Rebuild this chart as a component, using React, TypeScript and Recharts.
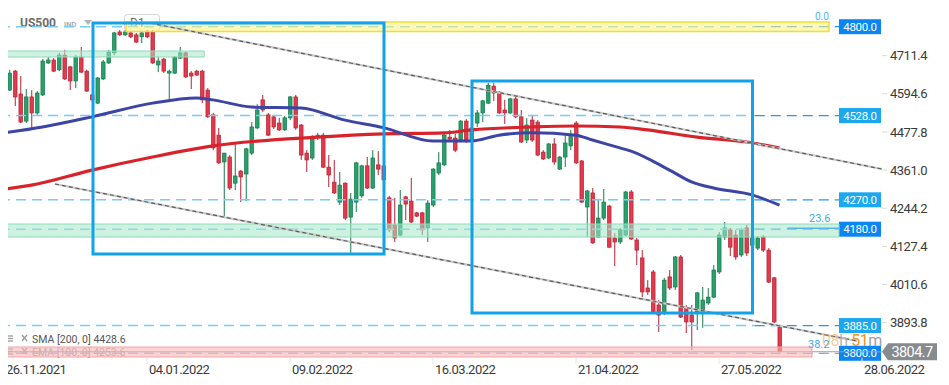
import React from 'react';
import {Bar, ComposedChart, Line, ReferenceArea, ReferenceLine, XAxis, YAxis} from 'recharts';

// daily candles, US500
const opens = [
  4704, 4606, 4664, 4594, 4511, 4585, 4536, 4591, 4689, 4698, 4668, 4713, 4677, 4634, 4707, 4664, 4591, 4566, 4640, 4689,
  4720, 4784, 4775, 4781, 4775, 4769, 4784, 4784, 4683, 4701, 4658, 4658, 4704, 4720, 4658, 4664, 4664, 4606, 4530, 4468,
  4386, 4401, 4321, 4358, 4349, 4413, 4490, 4576, 4530, 4524, 4505, 4484, 4521, 4585, 4499, 4413, 4398, 4462, 4468, 4370,
  4324, 4263, 4321, 4217, 4263, 4282, 4374, 4306, 4377, 4374, 4276, 4193, 4162, 4279, 4266, 4230, 4230, 4184, 4254, 4352,
  4377, 4462, 4459, 4453, 4511, 4453, 4505, 4536, 4566, 4618, 4600, 4545, 4536, 4579, 4524, 4453, 4514, 4508, 4416, 4398,
  4441, 4364, 4401, 4435, 4505, 4389, 4248, 4291, 4156, 4214, 4251, 4153, 4141, 4162, 4294, 4147, 4092, 4000, 4049, 3948,
  3923, 4034, 4003, 4095, 3939, 3917, 3927, 3927, 3954, 3972, 4049, 4156, 4178, 4162, 4101, 4184, 4131, 4122, 4156, 4116,
  4031, 3880,
];
const highs = [
  4707, 4668, 4668, 4649, 4609, 4606, 4603, 4701, 4707, 4704, 4720, 4729, 4680, 4713, 4738, 4668, 4594, 4646, 4698, 4729,
  4784, 4790, 4790, 4787, 4781, 4787, 4790, 4790, 4707, 4704, 4668, 4710, 4738, 4723, 4664, 4668, 4668, 4612, 4536, 4490,
  4413, 4407, 4447, 4361, 4429, 4508, 4563, 4591, 4536, 4530, 4521, 4527, 4588, 4591, 4502, 4422, 4468, 4475, 4475, 4407,
  4392, 4355, 4324, 4291, 4386, 4377, 4401, 4422, 4419, 4422, 4282, 4276, 4300, 4282, 4337, 4233, 4233, 4269, 4367, 4416,
  4475, 4484, 4472, 4514, 4517, 4514, 4545, 4576, 4628, 4628, 4603, 4576, 4582, 4588, 4545, 4520, 4530, 4514, 4422, 4444,
  4459, 4404, 4468, 4484, 4511, 4392, 4300, 4306, 4269, 4303, 4254, 4168, 4184, 4297, 4300, 4153, 4116, 4024, 4055, 3963,
  4031, 4055, 4098, 4101, 3948, 3948, 3988, 4003, 4000, 4070, 4171, 4202, 4184, 4178, 4184, 4193, 4159, 4159, 4162, 4122,
  4034, 3887,
];
const lows = [
  4576, 4603, 4557, 4505, 4505, 4490, 4530, 4588, 4686, 4661, 4664, 4637, 4606, 4612, 4658, 4600, 4570, 4563, 4637, 4686,
  4713, 4772, 4772, 4765, 4750, 4750, 4765, 4686, 4661, 4658, 4576, 4655, 4701, 4643, 4609, 4649, 4566, 4521, 4422, 4380,
  4217, 4300, 4300, 4263, 4266, 4407, 4487, 4539, 4465, 4487, 4481, 4481, 4514, 4484, 4392, 4355, 4392, 4453, 4367, 4309,
  4288, 4254, 4208, 4107, 4233, 4276, 4303, 4303, 4346, 4315, 4171, 4141, 4159, 4208, 4199, 4217, 4162, 4141, 4248, 4346,
  4373, 4453, 4416, 4450, 4444, 4450, 4493, 4508, 4563, 4573, 4533, 4502, 4533, 4520, 4444, 4444, 4447, 4404, 4392, 4395,
  4377, 4361, 4370, 4422, 4380, 4260, 4156, 4135, 4153, 4208, 4122, 4067, 4135, 4159, 4147, 4070, 3972, 3979, 3923, 3865,
  3917, 3994, 3994, 3908, 3862, 3810, 3871, 3878, 3948, 3969, 4043, 4147, 4098, 4086, 4095, 4098, 4125, 4116, 4110, 4015,
  3893, 3804,
];
const closes = [
  4579, 4658, 4585, 4508, 4585, 4536, 4597, 4695, 4698, 4664, 4713, 4640, 4634, 4707, 4661, 4603, 4576, 4643, 4692, 4723,
  4781, 4775, 4784, 4769, 4753, 4781, 4769, 4689, 4695, 4664, 4664, 4707, 4720, 4646, 4649, 4652, 4576, 4524, 4429, 4383,
  4413, 4306, 4343, 4340, 4426, 4493, 4545, 4545, 4468, 4493, 4484, 4521, 4585, 4490, 4407, 4392, 4459, 4468, 4370, 4346,
  4291, 4315, 4214, 4272, 4383, 4374, 4306, 4398, 4364, 4331, 4178, 4153, 4254, 4257, 4202, 4220, 4178, 4260, 4364, 4383,
  4468, 4456, 4422, 4511, 4453, 4490, 4536, 4573, 4621, 4597, 4536, 4536, 4579, 4524, 4447, 4499, 4453, 4407, 4395, 4441,
  4386, 4401, 4444, 4468, 4383, 4263, 4297, 4138, 4214, 4263, 4125, 4141, 4178, 4294, 4150, 4116, 3988, 3988, 3927, 3917,
  4024, 4000, 4095, 3911, 3896, 3896, 3985, 3963, 3972, 4055, 4162, 4184, 4125, 4095, 4178, 4107, 4153, 4153, 4116, 4018,
  3896, 3804.7,
];

const dateTicks = [0, 26, 52, 78, 104, 130, 156];
const dateLabels = ['26.11.2021', '04.01.2022', '09.02.2022', '16.03.2022', '21.04.2022', '27.05.2022', '28.06.2022'];
const priceTicks = [3893.8, 4010.6, 4127.4, 4244.2, 4361.0, 4477.8, 4594.6, 4711.4];

// moving averages, sampled along the drawn curves
const smaIdx = [0, 5, 16, 27, 38, 57, 69, 80, 85, 96, 104, 112, 117, 126, 135, 141];
const smaVals = [4303, 4315, 4361, 4401, 4435, 4462, 4472, 4475, 4484, 4493, 4496, 4493, 4484, 4462, 4447, 4428.6];
const emaIdx = [0, 7, 16, 27, 35, 38, 45, 54, 62, 69, 78, 85, 90, 96, 104, 107, 112, 114, 121, 125, 129, 136, 141];
const emaVals = [
  4475, 4493, 4524, 4566, 4582, 4576, 4554, 4551, 4514, 4491, 4450, 4450, 4468, 4475, 4468, 4453, 4429, 4419, 4361, 4325,
  4306, 4285, 4253.6,
];

// horizontal levels and their tags
const levels = [4800, 4528, 4270, 4180, 3885, 3800];
const levelTags = ['4800.0', '4528.0', '4270.0', '4180.0', '3885.0', '3800.0'];
const lastPrice = 3804.7;

const candles = opens.map((o, i) => ({i, open: o, high: highs[i], low: lows[i], close: closes[i]}));
const smaData = smaIdx.map((i, k) => ({i, v: smaVals[k]}));
const emaData = emaIdx.map((i, k) => ({i, v: emaVals[k]}));

const X_MIN = -0.7273;
const X_MAX = 171.818;
const Y_MIN = 3785.6;
const Y_MAX = 4881.8;
const PLOT_END = 151.82;
const FADE_X = 136.5;

const UP = '#27a06b';
const UP_EDGE = '#17784b';
const DOWN = '#e03a4c';
const DOWN_EDGE = '#b52233';
const BOX = '#12a2ea';
const STRONG = new Set([4800, 4180, 3800]);
const FONT = 'Roboto, sans-serif';

function Candle(props: any) {
  const {x, y, width, height, payload} = props;
  if (!payload) return null;
  const {open, close, high, low} = payload;
  const top = Math.min(y, y + height);
  const h = Math.abs(height);
  const py = (v: number) => top + ((high - v) / (high - low || 1)) * h;
  const up = close >= open;
  const cx = x + width / 2;
  const b1 = py(Math.max(open, close));
  const b2 = py(Math.min(open, close));
  return (
    <g>
      <line x1={cx} x2={cx} y1={top} y2={top + h} stroke={up ? UP_EDGE : DOWN_EDGE} strokeWidth={1} />
      <rect
        x={cx - 1.8}
        y={b1}
        width={3.6}
        height={Math.max(b2 - b1, 1)}
        fill={up ? UP : DOWN}
        stroke={up ? UP_EDGE : DOWN_EDGE}
        strokeWidth={0.7}
      />
    </g>
  );
}

function DateTick(props: any) {
  const {x, payload} = props;
  const k = dateTicks.indexOf(payload.value);
  return (
    <g>
      <line x1={x} x2={x} y1={358} y2={364} stroke="#e4e4e4" />
      <text x={x + 2} y={374} fontSize={13} fill="#3a3a3a" letterSpacing={-0.5} fontFamily={FONT}>
        {dateLabels[k]}
      </text>
    </g>
  );
}

function PriceTick(props: any) {
  const {y, payload} = props;
  return (
    <g>
      <line x1={882} x2={887} y1={y} y2={y} stroke="#d8d8d8" />
      <text x={890} y={y} dy={4.6} fontSize={13} fill="#3a3a3a" letterSpacing={-0.5} fontFamily={FONT}>
        {Number(payload.value).toFixed(1)}
      </text>
    </g>
  );
}

function Tag(props: any) {
  const {viewBox, text, fill} = props;
  const y = viewBox?.y ?? 0;
  return (
    <g>
      <rect x={839} y={y - 7.5} width={42} height={15} fill={fill} />
      <text x={860} y={y} dy={4} textAnchor="middle" fontSize={11.5} fill="#fff" letterSpacing={-0.3} fontFamily={FONT}>
        {text}
      </text>
    </g>
  );
}

function LastTag(props: any) {
  const {viewBox} = props;
  const y = viewBox?.y ?? 0;
  return (
    <g>
      <polygon points={`882,${y} 888,${y - 8.5} 937,${y - 8.5} 937,${y + 8.5} 888,${y + 8.5}`} fill="#868b90" />
      <text x={912} y={y} dy={5} textAnchor="middle" fontSize={14.5} fill="#fff" letterSpacing={-0.6} fontFamily={FONT}>
        {lastPrice.toFixed(1)}
      </text>
    </g>
  );
}

function LegendIcons({y}: {y: number}) {
  return (
    <g stroke="#9a9a9a" strokeWidth={1.3}>
      <line x1={6} x2={13} y1={y - 6} y2={y - 6} />
      <line x1={6} x2={13} y1={y - 3.5} y2={y - 3.5} />
      <line x1={6} x2={13} y1={y - 1} y2={y - 1} />
      <line x1={22} x2={27} y1={y - 7} y2={y - 1} />
      <line x1={27} x2={22} y1={y - 7} y2={y - 1} />
    </g>
  );
}

export default function App() {
  return (
    <div style={{position: 'relative', width: 949, height: 385, margin: -8, background: '#fff', fontFamily: FONT}}>
      <svg width={949} height={385} style={{position: 'absolute', left: 0, top: 0}}>
        <text x={20} y={27} fontSize={12} fontWeight="bold" fill="#6c6c6c" fontFamily={FONT}>
          US500
        </text>
        <text x={64} y={26.5} fontSize={7.5} fontWeight="bold" fill="#a8adb5" fontFamily={FONT}>
          IND
        </text>
        <polygon points="84,20 92,20 88,25" fill="#b4b4b4" />
        <rect x={124.5} y={14.5} width={35} height={17} rx={3} fill="#fff" stroke="#d4d4d4" />
        <text x={130} y={27} fontSize={12} fill="#666" fontFamily={FONT}>
          D1
        </text>
        <LegendIcons y={355} />
        <text x={32} y={356} fontSize={10.5} fill="#9a9a9a" fontFamily={FONT}>
          {`EMA [100, 0] ${emaVals[emaVals.length - 1]}`}
        </text>
      </svg>

      <div style={{position: 'absolute', left: 0, top: 0}}>
        <ComposedChart width={949} height={385} data={candles} margin={{top: 0, right: 0, bottom: 0, left: 0}}>
          <XAxis
            dataKey="i"
            type="number"
            domain={[X_MIN, X_MAX]}
            allowDataOverflow
            ticks={dateTicks}
            interval={0}
            tick={<DateTick />}
            tickLine={false}
            axisLine={false}
            height={27}
          />
          <YAxis
            orientation="right"
            mirror
            domain={[Y_MIN, Y_MAX]}
            allowDataOverflow
            ticks={priceTicks}
            interval={0}
            tick={<PriceTick />}
            tickLine={false}
            axisLine={false}
          />

          <Bar
            dataKey={(d: any) => [d.low, d.high]}
            barSize={4}
            shape={<Candle />}
            isAnimationActive={false}
            zIndex={300}
          />

          {levels.map((lv) => (
            <ReferenceLine
              key={`lv-a-${lv}`}
              segment={[{x: X_MIN, y: lv}, {x: FADE_X, y: lv}]}
              stroke={lv === 3800 ? '#9fb3dc' : '#74cdf7'}
              strokeDasharray="10 6"
              strokeWidth={1.4}
              ifOverflow="visible"
              zIndex={310}
            />
          ))}

          {levels.map((lv, k) => (
            <ReferenceLine
              key={`lv-b-${lv}`}
              segment={[{x: FADE_X, y: lv}, {x: PLOT_END, y: lv}]}
              stroke={lv === 3800 ? '#8ea4d6' : '#2a98ea'}
              strokeDasharray="10 6"
              strokeWidth={1.3}
              ifOverflow="visible"
              zIndex={320}
              label={<Tag text={levelTags[k]} fill={STRONG.has(lv) ? '#0a86f2' : '#1ba8ef'} />}
            />
          ))}

          <ReferenceLine
            segment={[{x: X_MIN, y: lastPrice}, {x: 159.6, y: lastPrice}]}
            stroke="#9a9ea4"
            strokeWidth={1}
            ifOverflow="visible"
            zIndex={330}
            label={<LastTag />}
          />

          <ReferenceArea x1={22.18} x2={150} y1={4785.3} y2={4814.4} fill="#fff27a" fillOpacity={0.55} stroke="#f3dc37" strokeWidth={1.5} ifOverflow="visible" zIndex={450} />
          <ReferenceArea x1={-0.36} x2={36.4} y1={4707.3} y2={4725.6} fill="#a6e8cb" fillOpacity={0.55} stroke="#8edbb8" ifOverflow="visible" zIndex={450} />
          <ReferenceArea x1={X_MIN} x2={PLOT_END} y1={4156.1} y2={4195.9} fill="#a6e8cb" fillOpacity={0.55} stroke="#8edbb8" ifOverflow="visible" zIndex={450} />
          <ReferenceArea x1={X_MIN} x2={146.9} y1={3788.7} y2={3819.3} fill="#f6b8b8" fillOpacity={0.6} stroke="#f0a5a5" ifOverflow="visible" zIndex={450} />

          <Line data={smaData} dataKey="v" type="monotone" stroke="#d9232b" strokeWidth={3.2} dot={false} isAnimationActive={false} zIndex={460} />
          <Line data={emaData} dataKey="v" type="monotone" stroke="#3c44a4" strokeWidth={3} dot={false} isAnimationActive={false} zIndex={460} />

          <ReferenceLine segment={[{x: 26.55, y: 4811.4}, {x: 159.6, y: 4364.3}]} stroke="#c9c9c9" strokeWidth={2.2} ifOverflow="visible" zIndex={480} />
          <ReferenceLine segment={[{x: 26.55, y: 4811.4}, {x: 159.6, y: 4364.3}]} stroke="#5c5c5c" strokeDasharray="4 3" strokeWidth={1.2} ifOverflow="visible" zIndex={481} />
          <ReferenceLine segment={[{x: 9.27, y: 4318.4}, {x: 155.1, y: 3837.6}]} stroke="#c9c9c9" strokeWidth={2.2} ifOverflow="visible" zIndex={480} />
          <ReferenceLine segment={[{x: 9.27, y: 4318.4}, {x: 155.1, y: 3837.6}]} stroke="#5c5c5c" strokeDasharray="4 3" strokeWidth={1.2} ifOverflow="visible" zIndex={481} />

          <ReferenceLine segment={[{x: 142.4, y: 4183}, {x: PLOT_END, y: 4183}]} stroke="#5ab6ee" strokeWidth={1.6} ifOverflow="visible" zIndex={490} />

          <ReferenceArea x1={16.18} x2={69.09} y1={4104} y2={4811.4} fill="none" stroke={BOX} strokeWidth={3} ifOverflow="visible" zIndex={500} />
          <ReferenceArea x1={85.09} x2={136.09} y1={3923.4} y2={4633.8} fill="none" stroke={BOX} strokeWidth={3} ifOverflow="visible" zIndex={500} />
        </ComposedChart>
      </div>

      <svg width={949} height={385} style={{position: 'absolute', left: 0, top: 0, pointerEvents: 'none'}}>
        <text x={815} y={20} fontSize={10} fill="#4db5ef" fontFamily={FONT}>
          0.0
        </text>
        <text x={809} y={222} fontSize={11} fill="#3aaaf0" fontFamily={FONT}>
          23.6
        </text>
        <text x={808} y={348} fontSize={11} fill="#3aaaf0" fontFamily={FONT}>
          38.2
        </text>
        <text x={822} y={346} fontSize={16} fontFamily={FONT} letterSpacing={-0.4}>
          <tspan fill="#f5a04a" fillOpacity={0.55}>08</tspan>
          <tspan fill="#b4b4b4">h </tspan>
          <tspan fill="#f5921e">51</tspan>
          <tspan fill="#a0a0a0">m</tspan>
        </text>
        <LegendIcons y={342} />
        <text x={32} y={343} fontSize={10.5} fill="#555" fontFamily={FONT}>
          {`SMA [200, 0] ${smaVals[smaVals.length - 1]}`}
        </text>
      </svg>
    </div>
  );
}
